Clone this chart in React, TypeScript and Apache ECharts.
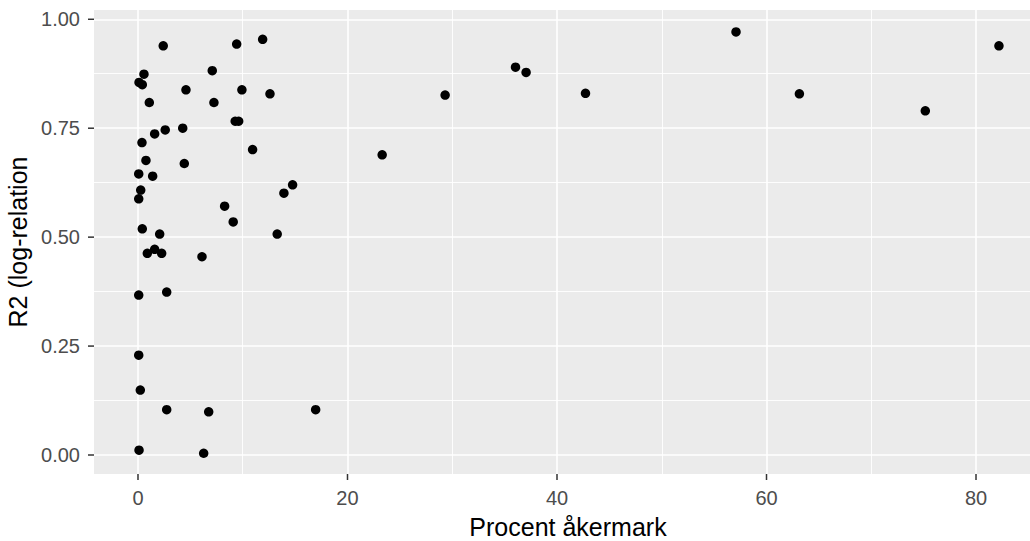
import React, { useEffect, useRef } from "react";
import * as echarts from "echarts";

const X_VALUES = [
  0.1, 6.27, 2.74, 6.75, 16.96, 0.22, 0.07, 0.07, 2.74, 0.89, 1.59, 2.26, 6.11, 0.41, 2.07,
  13.29, 9.09, 8.27, 13.93, 14.76, 0.07, 0.26, 0.07, 1.4, 0.76, 4.42, 0.38, 10.94, 1.59, 2.6,
  4.27, 9.28, 9.61, 1.08, 7.25, 0.1, 0.41, 0.57, 4.58, 9.92, 12.6, 7.09, 2.41, 9.42, 11.9,
  23.31, 29.32, 36.04, 37.05, 42.72, 57.09, 63.14, 75.16, 82.19,
];
const Y_VALUES = [
  0.011, 0.004, 0.104, 0.099, 0.104, 0.149, 0.229, 0.367, 0.374, 0.463, 0.472, 0.463, 0.455,
  0.519, 0.507, 0.507, 0.535, 0.571, 0.601, 0.62, 0.588, 0.608, 0.645, 0.64, 0.676, 0.669,
  0.717, 0.701, 0.737, 0.746, 0.75, 0.766, 0.766, 0.809, 0.809, 0.855, 0.85, 0.874, 0.838,
  0.838, 0.829, 0.882, 0.939, 0.943, 0.954, 0.689, 0.826, 0.89, 0.878, 0.83, 0.971, 0.829,
  0.79, 0.939,
];

const X_TICKS = [0, 20, 40, 60, 80];
const X_MINOR = [10, 30, 50, 70];
const Y_TICKS = [0, 0.25, 0.5, 0.75, 1.0];
const Y_MINOR = [0.125, 0.375, 0.625, 0.875];

const X_MIN = -4.2;
const X_MAX = 86.3;
const Y_MIN = -0.0436;
const Y_MAX = 1.0213;

const X_TITLE = "Procent åkermark";
const Y_TITLE = "R2 (log-relation";

const FONT = "'Liberation Sans', Arial, sans-serif";
const TICK_LEN = 6;
const TICK_COLOR = "#333333";

export default function App() {
  const ref = useRef<HTMLDivElement>(null);

  useEffect(() => {
    if (!ref.current) return;
    const chart = echarts.init(ref.current, undefined, { renderer: "svg" });
    const data = X_VALUES.map((x, i) => [x, Y_VALUES[i]]);
    const xTickData = X_TICKS.map((v) => [v, Y_MIN]);
    const yTickData = Y_TICKS.map((v) => [X_MIN, v]);
    const noLine = { show: false, onZero: false };
    chart.setOption({
      animation: false,
      grid: {
        left: 94,
        top: 10,
        width: 948,
        height: 464,
        show: true,
        backgroundColor: "#EBEBEB",
        borderWidth: 0,
        containLabel: false,
        outerBoundsMode: "none",
      },
      xAxis: [
        {
          type: "value",
          min: X_MIN,
          max: X_MAX,
          position: "bottom",
          axisLine: noLine,
          axisTick: { show: false, customValues: X_TICKS },
          axisLabel: {
            customValues: X_TICKS,
            color: "#4D4D4D",
            fontSize: 20,
            fontFamily: FONT,
            margin: 14,
            formatter: (v: number) => String(v),
          },
          splitLine: { show: true, lineStyle: { color: "#FFFFFF", width: 1.6 } },
          name: X_TITLE,
          nameLocation: "middle",
          nameGap: 40,
          nameTextStyle: { color: "#000000", fontSize: 25, lineHeight: 25, fontFamily: FONT },
          z: 1,
        },
        {
          type: "value",
          min: X_MIN,
          max: X_MAX,
          position: "bottom",
          axisLine: noLine,
          axisTick: { show: false, customValues: X_MINOR },
          axisLabel: { show: false, customValues: X_MINOR },
          splitLine: { show: true, lineStyle: { color: "#FFFFFF", width: 0.9 } },
          z: 0,
        },
      ],
      yAxis: [
        {
          type: "value",
          min: Y_MIN,
          max: Y_MAX,
          position: "left",
          axisLine: noLine,
          axisTick: { show: false, customValues: Y_TICKS },
          axisLabel: {
            customValues: Y_TICKS,
            color: "#4D4D4D",
            fontSize: 20,
            fontFamily: FONT,
            margin: 14,
            formatter: (v: number) => v.toFixed(2),
          },
          splitLine: { show: true, lineStyle: { color: "#FFFFFF", width: 1.6 } },
          name: Y_TITLE,
          nameLocation: "middle",
          nameGap: 60,
          nameTextStyle: { color: "#000000", fontSize: 25, fontFamily: FONT },
          z: 1,
        },
        {
          type: "value",
          min: Y_MIN,
          max: Y_MAX,
          position: "left",
          axisLine: noLine,
          axisTick: { show: false, customValues: Y_MINOR },
          axisLabel: { show: false, customValues: Y_MINOR },
          splitLine: { show: true, lineStyle: { color: "#FFFFFF", width: 0.9 } },
          z: 0,
        },
      ],
      series: [
        {
          type: "scatter",
          xAxisIndex: 0,
          yAxisIndex: 0,
          data,
          symbol: "circle",
          symbolSize: 9.5,
          itemStyle: { color: "#000000", opacity: 1 },
          z: 3,
        },
        {
          type: "custom",
          xAxisIndex: 0,
          yAxisIndex: 0,
          data: xTickData,
          clip: false,
          silent: true,
          z: 4,
          renderItem: (_params: any, api: any) => {
            const p = api.coord([api.value(0), api.value(1)]);
            return {
              type: "line",
              shape: { x1: p[0], y1: p[1], x2: p[0], y2: p[1] + TICK_LEN },
              style: { stroke: TICK_COLOR, lineWidth: 1.5 },
            };
          },
        },
        {
          type: "custom",
          xAxisIndex: 0,
          yAxisIndex: 0,
          data: yTickData,
          clip: false,
          silent: true,
          z: 4,
          renderItem: (_params: any, api: any) => {
            const p = api.coord([api.value(0), api.value(1)]);
            return {
              type: "line",
              shape: { x1: p[0] - TICK_LEN, y1: p[1], x2: p[0], y2: p[1] },
              style: { stroke: TICK_COLOR, lineWidth: 1.5 },
            };
          },
        },
      ],
    });
    return () => chart.dispose();
  }, []);

  return (
    <div
      ref={ref}
      style={{ position: "absolute", left: 0, top: 0, width: 1030, height: 541 }}
    />
  );
}
